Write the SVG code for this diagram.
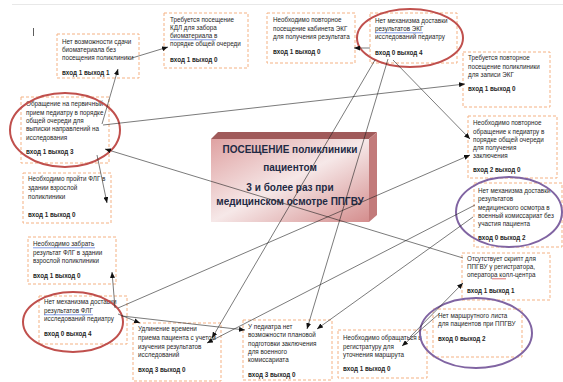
<svg xmlns="http://www.w3.org/2000/svg" width="563" height="382" viewBox="0 0 563 382">
<style>
.bx{fill:#fff;stroke:#f4b183;stroke-width:1;stroke-dasharray:3 2}
.t{font-family:"Liberation Sans",Arial,sans-serif;font-size:6.3px;fill:#262626}
.b{font-weight:bold}
.c{stroke:#222;stroke-width:0.6;fill:none;marker-end:url(#ah)}
.er{fill:none;stroke:#c0504d;stroke-width:2}
.ep{fill:none;stroke:#8064a2;stroke-width:2}
.ul{stroke:#4a6fd8;stroke-width:0.7;fill:none}
.ct{font-family:"Liberation Sans",Arial,sans-serif;font-size:10px;font-weight:bold;fill:#1f2a44;text-anchor:middle}
</style>
<defs>
<marker id="ah" markerUnits="userSpaceOnUse" markerWidth="6" markerHeight="5" refX="6" refY="2.5" orient="auto">
<path d="M0,0 L6,2.5 L0,5 z" fill="#111"/>
</marker>
<linearGradient id="fg" x1="0" y1="0" x2="1" y2="1">
<stop offset="0" stop-color="#dfa2a2"/>
<stop offset="0.5" stop-color="#f6e8e8"/>
<stop offset="1" stop-color="#d48d8d"/>
</linearGradient>
</defs>
<rect width="563" height="382" fill="#fff"/>
<line x1="12" y1="4.5" x2="563" y2="4.5" stroke="#e8e8e8" stroke-width="1"/>
<line x1="33.5" y1="28" x2="33.5" y2="36" stroke="#333" stroke-width="0.8"/>

<g id="center">
<polygon points="211,139 218,132 377,132 369,139" fill="#a05a5a"/>
<polygon points="369,139 377,132 377,215 369,222" fill="#c27a7a"/>
<rect x="211" y="139" width="158" height="83" fill="url(#fg)"/>
<text class="ct" x="290" y="153">ПОСЕЩЕНИЕ поликлиники</text>
<text class="ct" x="290" y="171">пациентом</text>
<text class="ct" x="290" y="191">3 и более раз при</text>
<text class="ct" x="290" y="205">медицинском осмотре ППГВУ</text>
</g>

<g id="n1"><rect class="bx" x="57" y="34" width="82" height="44"/>
<text class="t" x="62" y="44">Нет возможности сдачи</text>
<text class="t" x="62" y="52">биоматериала без</text>
<text class="t" x="62" y="60">посещения поликлиники</text>
<text class="t b" x="62" y="75">вход 1 выход 1</text></g>

<g id="n2"><rect class="bx" x="164" y="13" width="84" height="55"/>
<text class="t" x="170" y="21.5">Требуется посещение</text>
<text class="t" x="170" y="30">КДЛ для забора</text>
<text class="t" x="170" y="38">биоматериала  в</text>
<line class="ul" x1="170" y1="39.8" x2="216" y2="39.8"/>
<text class="t" x="170" y="46">порядке общей очереди</text>
<text class="t b" x="170" y="62">вход 1 выход 0</text></g>

<g id="n3"><rect class="bx" x="267" y="13" width="88" height="50"/>
<text class="t" x="273" y="22">Необходимо повторное</text>
<text class="t" x="273" y="30.5">посещение кабинета ЭКГ</text>
<text class="t" x="273" y="39">для получения результата</text>
<text class="t b" x="273" y="54">вход 1 выход 0</text></g>

<g id="n4"><rect class="bx" x="370" y="13" width="87" height="50"/>
<text class="t" x="375" y="23">Нет механизма доставки</text>
<text class="t" x="375" y="31">результатов  ЭКГ</text>
<line class="ul" x1="375" y1="32.8" x2="423" y2="32.8"/>
<text class="t" x="375" y="38.5">исследований педиатру</text>
<text class="t b" x="375" y="55">вход 0 выход 4</text></g>

<g id="n5"><rect class="bx" x="463" y="52" width="87" height="55"/>
<text class="t" x="468" y="60">Требуется повторное</text>
<text class="t" x="468" y="69">посещение поликлиники</text>
<text class="t" x="468" y="77">для записи ЭКГ</text>
<text class="t b" x="468" y="91">вход 1 выход 0</text></g>

<g id="n6"><rect class="bx" x="468" y="116" width="89" height="62"/>
<text class="t" x="473" y="125">Необходимо повторное</text>
<text class="t" x="473" y="133.5">обращение к педиатру в</text>
<text class="t" x="473" y="141.5">порядке общей очереди</text>
<text class="t" x="473" y="150">для получения</text>
<text class="t" x="473" y="158">заключения</text>
<text class="t b" x="473" y="172">вход 2 выход 0</text></g>

<g id="n7"><rect class="bx" x="474" y="183" width="88" height="64"/>
<text class="t" x="478" y="193">Нет механизма доставки</text>
<text class="t" x="478" y="201">результатов</text>
<text class="t" x="478" y="209.5">медицинского осмотра в</text>
<text class="t" x="478" y="218">военный комиссариат без</text>
<text class="t" x="478" y="226">участия пациента</text>
<text class="t b" x="478" y="240">вход 0 выход 2</text></g>

<g id="n8"><rect class="bx" x="462" y="253" width="88" height="47"/>
<text class="t" x="467" y="261">Отсутствует скрипт для</text>
<text class="t" x="467" y="269">ППГВУ у регистратора,</text>
<text class="t" x="467" y="277">оператора колл-центра</text>
<line x1="492" y1="278.8" x2="506" y2="278.8" stroke="#d03030" stroke-width="0.7"/>
<text class="t b" x="467" y="293">вход 1 выход 1</text></g>

<g id="n9"><rect class="bx" x="433" y="309" width="89" height="48"/>
<text class="t" x="438" y="318">Нет маршрутного листа</text>
<text class="t" x="438" y="326">для пациентов при ППГВУ</text>
<text class="t b" x="438" y="341">вход 0 выход 2</text></g>

<g id="n10"><rect class="bx" x="338" y="330" width="89" height="48"/>
<text class="t" x="343" y="340">Необходимо обращаться в</text>
<text class="t" x="343" y="349">регистратуру для</text>
<text class="t" x="343" y="356.5">уточнения маршрута</text>
<text class="t b" x="343" y="371">вход 1 выход 0</text></g>

<g id="n11"><rect class="bx" x="243" y="320" width="89" height="60"/>
<text class="t" x="248" y="329">У педиатра нет</text>
<text class="t" x="248" y="337">возможности плановой</text>
<text class="t" x="248" y="345.5">подготовки заключения</text>
<text class="t" x="248" y="354">для военного</text>
<text class="t" x="248" y="361.5">комиссариата</text>
<text class="t b" x="248" y="377">вход 3 выход 0</text></g>

<g id="n12"><rect class="bx" x="133" y="323" width="88" height="58"/>
<text class="t" x="138" y="331">Удлинение времени</text>
<text class="t" x="138" y="340">приема пациента с учетом</text>
<text class="t" x="138" y="349">изучения результатов</text>
<text class="t" x="138" y="357">исследований</text>
<text class="t b" x="138" y="372">вход 3 выход 0</text></g>

<g id="n13"><rect class="bx" x="39" y="296" width="88" height="48"/>
<text class="t" x="44" y="304">Нет механизма доставки</text>
<text class="t" x="44" y="313">результатов  ФЛГ</text>
<line class="ul" x1="44" y1="314.8" x2="93" y2="314.8"/>
<text class="t" x="44" y="321">исследований педиатру</text>
<text class="t b" x="44" y="336">вход 0 выход 4</text></g>

<g id="n14"><rect class="bx" x="28" y="237" width="88" height="47"/>
<text class="t" x="33" y="246">Необходимо  забрать</text>
<line class="ul" x1="33" y1="247.8" x2="95" y2="247.8"/>
<text class="t" x="33" y="255">результат ФЛГ в здании</text>
<text class="t" x="33" y="263">взрослой поликлиники</text>
<text class="t b" x="33" y="278">вход 1 выход 0</text></g>

<g id="n15"><rect class="bx" x="23" y="173" width="88" height="50"/>
<text class="t" x="28" y="181">Необходимо пройти ФЛГ в</text>
<text class="t" x="28" y="190">здании взрослой</text>
<text class="t" x="28" y="199">поликлиники</text>
<text class="t b" x="28" y="217">вход 1 выход 0</text></g>

<g id="n16"><rect class="bx" x="21" y="97" width="88" height="66"/>
<text class="t" x="26" y="106">Обращение на первичный</text>
<text class="t" x="26" y="115">прием педиатру в порядке</text>
<text class="t" x="26" y="123">общей очереди для</text>
<text class="t" x="26" y="131">выписки направлений на</text>
<text class="t" x="26" y="140">исследования</text>
<text class="t b" x="26" y="154">вход 1 выход 3</text></g>

<g id="highlights">
<ellipse class="er" cx="65" cy="130" rx="55" ry="37"/>
<ellipse class="er" cx="410" cy="38" rx="53" ry="29"/>
<ellipse class="er" cx="73" cy="322" rx="50" ry="30"/>
<ellipse class="ep" cx="509" cy="212" rx="53" ry="35"/>
<ellipse class="ep" cx="476" cy="333" rx="56" ry="35"/>
</g>

<g id="connectors">
<line class="c" x1="132" y1="58" x2="168" y2="47"/>
<line class="c" x1="102" y1="124" x2="118" y2="69"/>
<line class="c" x1="103" y1="125" x2="465" y2="84"/>
<line class="c" x1="97" y1="155" x2="107" y2="203"/>
<line class="c" x1="463" y1="258" x2="105" y2="149"/>
<line class="c" x1="370" y1="48" x2="354" y2="48"/>
<line class="c" x1="393" y1="60" x2="470" y2="139"/>
<line class="c" x1="375" y1="60" x2="212" y2="338"/>
<line class="c" x1="388" y1="59" x2="307" y2="329"/>
<line class="c" x1="475" y1="205" x2="207" y2="343"/>
<line class="c" x1="473" y1="217" x2="317" y2="329"/>
<line class="c" x1="118" y1="308" x2="470" y2="155"/>
<line class="c" x1="115" y1="308" x2="112" y2="272"/>
<line class="c" x1="118" y1="314" x2="140" y2="323"/>
<line class="c" x1="122" y1="316" x2="245" y2="330"/>
<line class="c" x1="440" y1="313" x2="402" y2="346"/>
<line class="c" x1="410" y1="337" x2="463" y2="283"/>
</g>
</svg>
